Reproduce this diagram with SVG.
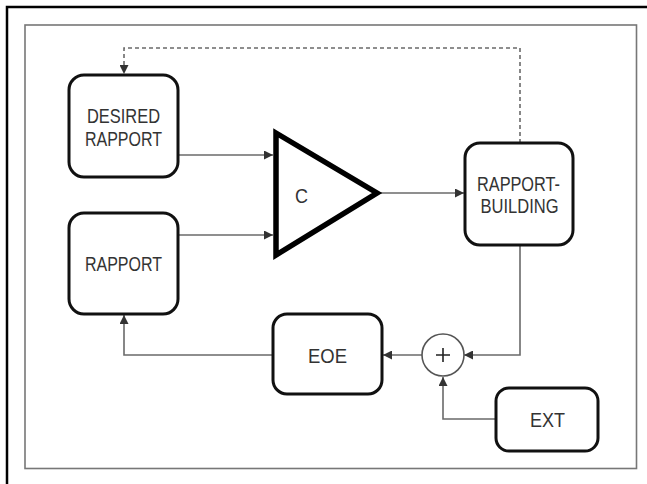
<svg xmlns="http://www.w3.org/2000/svg" width="647" height="484" viewBox="0 0 647 484">
<style>
.box{fill:#fff;stroke:#111;stroke-width:3}
.lbl{font-family:"Liberation Sans",Arial,sans-serif;font-size:21px;fill:#333;text-anchor:middle}
.con{fill:none;stroke:#6a6a6a;stroke-width:1.6}
.dash{fill:none;stroke:#6a6a6a;stroke-width:1.6;stroke-dasharray:4 3}
</style>
<defs>
<marker id="ah" viewBox="0 0 10 10" refX="10" refY="5" markerWidth="10" markerHeight="9" markerUnits="userSpaceOnUse" orient="auto">
<path d="M0,0 L10,5 L0,10 Z" fill="#333"/>
</marker>
</defs>
<rect width="647" height="484" fill="#fff"/>
<path d="M7,484 V7 H647" fill="none" stroke="#000" stroke-width="2.5"/>
<rect x="25" y="25" width="611.5" height="443.5" fill="none" stroke="#777" stroke-width="1.6"/>
<g id="connectors">
<path class="dash" d="M520,143 V48 H124 V74" marker-end="url(#ah)"/>
<path class="con" d="M178,155 H273" marker-end="url(#ah)"/>
<path class="con" d="M178,235 H273" marker-end="url(#ah)"/>
<path class="con" d="M380,193 H464" marker-end="url(#ah)"/>
<path class="con" d="M520,245 V355 H464" marker-end="url(#ah)"/>
<path class="con" d="M422,355 H383" marker-end="url(#ah)"/>
<path class="con" d="M273,355 H124 V315" marker-end="url(#ah)"/>
<path class="con" d="M496,419 H443 V377" marker-end="url(#ah)"/>
</g>
<g id="desired">
<rect class="box" x="69" y="75" width="109" height="102" rx="15"/>
<text class="lbl" x="123.5" y="123" textLength="73" lengthAdjust="spacingAndGlyphs">DESIRED</text>
<text class="lbl" x="123.5" y="146" textLength="77" lengthAdjust="spacingAndGlyphs">RAPPORT</text>
</g>
<g id="rapport">
<rect class="box" x="69" y="213" width="109" height="101" rx="15"/>
<text class="lbl" x="123.5" y="271" textLength="77" lengthAdjust="spacingAndGlyphs">RAPPORT</text>
</g>
<g id="controller">
<path d="M276,133 L377,193 L276,255 Z" fill="#fff" stroke="#000" stroke-width="5.5" stroke-linejoin="miter"/>
<text class="lbl" x="301.5" y="203" textLength="13" lengthAdjust="spacingAndGlyphs">C</text>
</g>
<g id="rapport-building">
<rect class="box" x="465" y="143" width="108" height="102" rx="15"/>
<text class="lbl" x="518.5" y="191" textLength="83" lengthAdjust="spacingAndGlyphs">RAPPORT-</text>
<text class="lbl" x="519.5" y="213" textLength="78" lengthAdjust="spacingAndGlyphs">BUILDING</text>
</g>
<g id="sum">
<circle cx="443" cy="355" r="21" fill="#fff" stroke="#555" stroke-width="1.6"/>
<path d="M436,355 H450 M443,348 V362" stroke="#222" stroke-width="1.6"/>
</g>
<g id="eoe">
<rect class="box" x="273" y="314" width="109" height="80" rx="14"/>
<text class="lbl" x="327.5" y="363" textLength="39" lengthAdjust="spacingAndGlyphs">EOE</text>
</g>
<g id="ext">
<rect class="box" x="496" y="388" width="102" height="63" rx="13"/>
<text class="lbl" x="547.5" y="427" textLength="35" lengthAdjust="spacingAndGlyphs">EXT</text>
</g>
</svg>
